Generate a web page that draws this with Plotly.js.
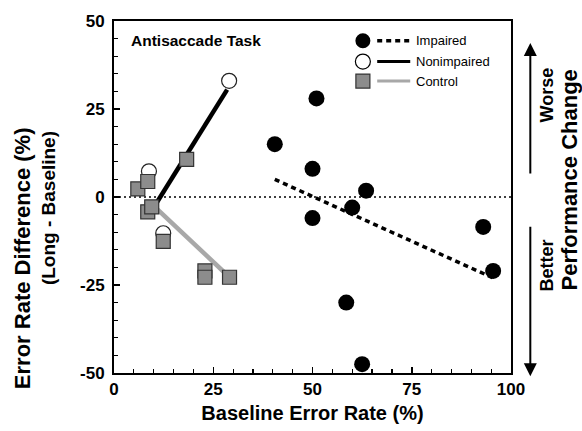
<!DOCTYPE html>
<html>
<head>
<meta charset="utf-8">
<script src="https://cdn.plot.ly/plotly-3.0.1.min.js"></script>
<style>html,body{margin:0;padding:0;background:#fff;}#chart{width:582px;height:431px;}</style>
</head>
<body>
<div id="chart"></div>
<script>
// Data
const impairedX = [40.5, 51, 50, 63.5, 60, 50, 93, 95.5, 58.5, 62.5];
const impairedY = [15, 28, 8, 1.8, -3, -6, -8.5, -21, -30, -47.5];
const nonimpairedX = [29, 8.8, 12.4];
const nonimpairedY = [33, 7.3, -10.3];
const controlX = [6, 8.5, 8.5, 9.5, 12.4, 18.3, 22.9, 22.9, 29.1];
const controlY = [2.3, 4.4, -4.2, -2.8, -12.6, 10.7, -21, -22.8, -22.8];
const impairedFitX = [40.5, 95.5];
const impairedFitY = [5, -23];
const nonimpairedFitX = [10, 28.5];
const nonimpairedFitY = [-3, 30.5];
const controlFitX = [10, 29.1];
const controlFitY = [-2.5, -22.8];
const xTicks = [0, 25, 50, 75, 100];
const yTicks = [-50, -25, 0, 25, 50];
const seriesNames = ['Impaired', 'Nonimpaired', 'Control'];

const FONT = 'Liberation Sans, Arial, Helvetica, sans-serif';
const GRAY_FILL = '#8c8c8c';
const GRAY_LINE = '#a8a8a8';

const traces = [
  {x: [0, 100], y: [0, 0], mode: 'lines', line: {color: '#000', width: 1.5, dash: '2px,3px'}, hoverinfo: 'skip'},
  {x: impairedFitX, y: impairedFitY, mode: 'lines', line: {color: '#000', width: 3.5, dash: '5px,4px'}},
  {x: nonimpairedFitX, y: nonimpairedFitY, mode: 'lines', line: {color: '#000', width: 4.5}},
  {x: controlFitX, y: controlFitY, mode: 'lines', line: {color: GRAY_LINE, width: 4.5}},
  {x: nonimpairedX, y: nonimpairedY, mode: 'markers', name: seriesNames[1],
   marker: {symbol: 'circle', size: 15, color: '#fff', line: {color: '#222', width: 1.2}}},
  {x: controlX, y: controlY, mode: 'markers', name: seriesNames[2],
   marker: {symbol: 'square', size: 14, color: GRAY_FILL, line: {color: '#333', width: 1.2}}},
  {x: impairedX, y: impairedY, mode: 'markers', name: seriesNames[0],
   marker: {symbol: 'circle', size: 16, color: '#000', line: {color: '#000', width: 0}}}
];

// plot area in pixels: x 114..510.7, y 21..372.7
const L = 114, R = 510.7, T = 21, B = 372.7;
const px = v => (v - L) / (R - L);
const py = v => (B - v) / (B - T);

const shapes = [];
const annotations = [];

// manual legend
const legRows = [40.7, 61.5, 81];
const legMx = 362.7;
seriesNames.forEach((nm, i) => {
  const yy = py(legRows[i]);
  const isSq = i === 2;
  shapes.push({type: isSq ? 'rect' : 'circle', xref: 'paper', yref: 'paper',
    xsizemode: 'pixel', ysizemode: 'pixel', xanchor: px(legMx), yanchor: yy,
    x0: isSq ? -7 : -7.5, x1: isSq ? 7 : 7.5, y0: isSq ? -7 : -7.5, y1: isSq ? 7 : 7.5,
    fillcolor: i === 0 ? '#000' : (i === 1 ? '#fff' : GRAY_FILL),
    line: {color: i === 2 ? '#333' : '#000', width: i === 0 ? 0 : 1.2}});
  shapes.push({type: 'line', xref: 'paper', yref: 'paper', x0: px(377), x1: px(410), y0: yy, y1: yy,
    line: i === 0 ? {color: '#000', width: 3.5, dash: '5px,4px'} :
          (i === 1 ? {color: '#000', width: 3} : {color: GRAY_LINE, width: 3})});
  annotations.push({xref: 'paper', yref: 'paper', x: px(414), y: yy, xanchor: 'left', yanchor: 'middle',
    text: nm, showarrow: false, font: {family: FONT, size: 13, color: '#000'}});
});

annotations.push({xref: 'paper', yref: 'paper', x: px(129), y: py(40), xanchor: 'left', yanchor: 'middle',
  text: 'Antisaccade Task', showarrow: false, font: {family: FONT, size: 15.5, color: '#000', weight: 'bold'}});

// y-axis title (two lines)
annotations.push({xref: 'paper', yref: 'paper', x: px(22), y: py(258), xanchor: 'center', yanchor: 'middle',
  text: 'Error Rate Difference (%)', textangle: -90, showarrow: false,
  font: {family: FONT, size: 22, color: '#000', weight: 'bold'}});
annotations.push({xref: 'paper', yref: 'paper', x: px(48), y: py(208), xanchor: 'center', yanchor: 'middle',
  text: '(Long - Baseline)', textangle: -90, showarrow: false,
  font: {family: FONT, size: 19, color: '#000', weight: 'bold'}});

// right side: performance change arrows
annotations.push({xref: 'paper', yref: 'paper', x: px(530), y: py(43), ax: 0, ay: 132, axref: 'pixel', ayref: 'pixel',
  text: '', showarrow: true, arrowhead: 2, arrowsize: 1.3, arrowwidth: 2, arrowcolor: '#000'});
annotations.push({xref: 'paper', yref: 'paper', x: px(530), y: py(376), ax: 0, ay: -151, axref: 'pixel', ayref: 'pixel',
  text: '', showarrow: true, arrowhead: 2, arrowsize: 1.3, arrowwidth: 2, arrowcolor: '#000'});
annotations.push({xref: 'paper', yref: 'paper', x: px(547), y: py(95), xanchor: 'center', yanchor: 'middle',
  text: 'Worse', textangle: -90, showarrow: false, font: {family: FONT, size: 18, color: '#000', weight: 'bold'}});
annotations.push({xref: 'paper', yref: 'paper', x: px(547), y: py(265), xanchor: 'center', yanchor: 'middle',
  text: 'Better', textangle: -90, showarrow: false, font: {family: FONT, size: 18, color: '#000', weight: 'bold'}});
annotations.push({xref: 'paper', yref: 'paper', x: px(569), y: py(180), xanchor: 'center', yanchor: 'middle',
  text: 'Performance Change', textangle: -90, showarrow: false, font: {family: FONT, size: 22, color: '#000', weight: 'bold'}});

const layout = {
  width: 582, height: 431,
  margin: {l: L, r: 582 - R, t: T, b: 431 - B, pad: 0},
  paper_bgcolor: '#fff', plot_bgcolor: '#fff',
  showlegend: false,
  font: {family: FONT, color: '#000'},
  xaxis: {
    range: [0, 100], tickvals: xTicks, ticktext: xTicks.map(String),
    showgrid: false, zeroline: false, showline: true, linecolor: '#000', linewidth: 2, mirror: true,
    ticks: 'inside', ticklen: 6, tickwidth: 1.5, tickcolor: '#000',
    minor: {dtick: 5, tick0: 0, ticks: 'inside', ticklen: 4, tickwidth: 1.2, tickcolor: '#000', showgrid: false},
    tickfont: {family: FONT, size: 17, weight: 'bold', color: '#000'},
    title: {text: 'Baseline Error Rate (%)', font: {family: FONT, size: 20, weight: 'bold', color: '#000'}, standoff: 8},
    fixedrange: true
  },
  yaxis: {
    range: [-50, 50], tickvals: yTicks, ticktext: yTicks.map(String),
    showgrid: false, zeroline: false, showline: true, linecolor: '#000', linewidth: 2, mirror: true,
    ticks: 'inside', ticklen: 6, tickwidth: 1.5, tickcolor: '#000',
    minor: {dtick: 5, tick0: 0, ticks: 'inside', ticklen: 4, tickwidth: 1.2, tickcolor: '#000', showgrid: false},
    tickfont: {family: FONT, size: 17, weight: 'bold', color: '#000'},
    ticklabelstandoff: 4,
    fixedrange: true
  },
  shapes: shapes,
  annotations: annotations
};

Plotly.newPlot('chart', traces, layout, {staticPlot: true, displayModeBar: false});
</script>
</body>
</html>
